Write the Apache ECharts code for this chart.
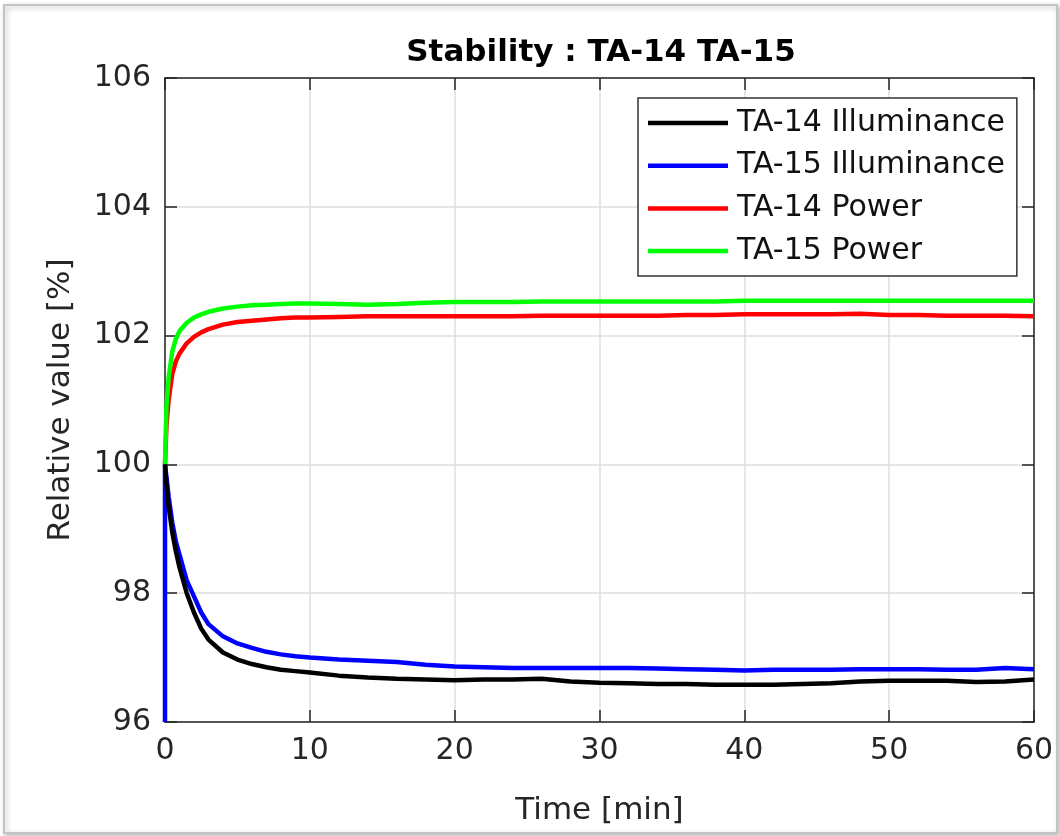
<!DOCTYPE html>
<html>
<head>
<meta charset="utf-8">
<title>Stability : TA-14 TA-15</title>
<script src="https://cdn.jsdelivr.net/npm/echarts@6/dist/echarts.min.js"></script>
<style>
  html, body { margin: 0; padding: 0; background: #ffffff; }
  #chart { width: 1060px; height: 836px; }
</style>
</head>
<body>
<div id="chart"></div>
<script>
// Sample times [min]
const timeMin = [0, 0.1, 0.25, 0.5, 0.75, 1, 1.5, 2, 2.5, 3, 4, 5, 6, 7, 8, 9, 10, 12, 14, 16, 18, 20,
  22, 24, 26, 28, 30, 32, 34, 36, 38, 40, 42, 44, 46, 48, 50, 52, 54, 56, 58, 60];

// Relative values [%]
const ta14Illuminance = [100, 99.7, 99.35, 98.95, 98.65, 98.4, 98.0, 97.7, 97.45, 97.28, 97.08, 96.97, 96.9,
  96.85, 96.81, 96.79, 96.77, 96.72, 96.69, 96.67, 96.66, 96.65, 96.66, 96.66, 96.67, 96.63, 96.61, 96.6,
  96.59, 96.59, 96.58, 96.58, 96.58, 96.59, 96.6, 96.63, 96.64, 96.64, 96.64, 96.62, 96.63, 96.66];
const ta15Illuminance = [100, 99.8, 99.5, 99.1, 98.8, 98.6, 98.2, 97.95, 97.7, 97.52, 97.33, 97.22, 97.15,
  97.09, 97.05, 97.02, 97.0, 96.97, 96.95, 96.93, 96.89, 96.86, 96.85, 96.84, 96.84, 96.84, 96.84, 96.84,
  96.83, 96.82, 96.81, 96.8, 96.81, 96.81, 96.81, 96.82, 96.82, 96.82, 96.81, 96.81, 96.84, 96.82];
const ta14Power = [100, 100.6, 101.0, 101.4, 101.6, 101.72, 101.88, 101.98, 102.05, 102.1, 102.17, 102.21,
  102.23, 102.25, 102.27, 102.28, 102.28, 102.29, 102.3, 102.3, 102.3, 102.3, 102.3, 102.3, 102.31, 102.31,
  102.31, 102.31, 102.31, 102.32, 102.32, 102.33, 102.33, 102.33, 102.33, 102.34, 102.32, 102.32, 102.31,
  102.31, 102.31, 102.3];
const ta15Power = [100, 100.9, 101.35, 101.75, 101.95, 102.07, 102.2, 102.28, 102.33, 102.37, 102.42, 102.45,
  102.47, 102.48, 102.49, 102.5, 102.5, 102.49, 102.48, 102.49, 102.51, 102.52, 102.52, 102.52, 102.53,
  102.53, 102.53, 102.53, 102.53, 102.53, 102.53, 102.54, 102.54, 102.54, 102.54, 102.54, 102.54, 102.54,
  102.54, 102.54, 102.54, 102.54];
// TA-15 illuminance record begins at the bottom of the range before the first reading
const ta15IlluminanceStart = [0, 96];

const seriesNames = ['TA-14 Illuminance', 'TA-15 Illuminance', 'TA-14 Power', 'TA-15 Power'];
const seriesColors = ['#000000', '#0000ff', '#ff0000', '#00ff00'];

const xTicks = { min: 0, max: 60, interval: 10 };
const yTicks = { min: 96, max: 106, interval: 2 };

const FONT = 'DejaVu Sans';
const AXIS_COLOR = '#262626';
// thin horizontal bar used as the legend key
const LEGEND_KEY = 'path://M0,0 L80,0 L80,4.5 L0,4.5 Z';

function pairs(xs, ys) { return xs.map((x, i) => [x, ys[i]]); }

const seriesValues = [
  pairs(timeMin, ta14Illuminance),
  [ta15IlluminanceStart].concat(pairs(timeMin, ta15Illuminance)),
  pairs(timeMin, ta14Power),
  pairs(timeMin, ta15Power)
];

const chart = echarts.init(document.getElementById('chart'), null, { renderer: 'canvas' });

const boxAxisX = (pos, main) => ({
  type: 'value', position: pos, min: xTicks.min, max: xTicks.max, interval: xTicks.interval,
  axisLine: { show: true, onZero: false, lineStyle: { color: AXIS_COLOR, width: 1.5 } },
  axisTick: { show: true, inside: true, length: 12, lineStyle: { color: AXIS_COLOR, width: 1.5 } },
  axisLabel: main ? { show: true, fontFamily: FONT, fontSize: 30, color: AXIS_COLOR, margin: 14 } : { show: false },
  splitLine: main ? { show: true, lineStyle: { color: '#dedede', width: 1.5 } } : { show: false },
  name: main ? 'Time [min]' : '',
  nameLocation: 'middle', nameGap: 73,
  nameTextStyle: { fontFamily: FONT, fontSize: 31, color: AXIS_COLOR }
});

const boxAxisY = (pos, main) => ({
  type: 'value', position: pos, min: yTicks.min, max: yTicks.max, interval: yTicks.interval,
  axisLine: { show: true, onZero: false, lineStyle: { color: AXIS_COLOR, width: 1.5 } },
  axisTick: { show: true, inside: true, length: 12, lineStyle: { color: AXIS_COLOR, width: 1.5 } },
  axisLabel: main ? { show: true, fontFamily: FONT, fontSize: 30, color: AXIS_COLOR, margin: 14 } : { show: false },
  splitLine: main ? { show: true, lineStyle: { color: '#dedede', width: 1.5 } } : { show: false },
  name: main ? 'Relative value [%]' : '',
  nameLocation: 'middle', nameGap: 89, nameRotate: 90,
  nameTextStyle: { fontFamily: FONT, fontSize: 31, color: AXIS_COLOR }
});

chart.setOption({
  backgroundColor: '#ffffff',
  animation: false,
  graphic: [{
    type: 'rect', z: -100, silent: true,
    shape: { x: 4, y: 5, width: 1053, height: 828 },
    style: { fill: '#ffffff', stroke: '#c4c4c4', lineWidth: 2,
      shadowBlur: 5, shadowColor: 'rgba(0,0,0,0.25)', shadowOffsetX: 2, shadowOffsetY: 2 }
  }],
  title: {
    text: 'Stability : TA-14 TA-15',
    left: 596, top: 32, textAlign: 'center',
    textStyle: { fontFamily: FONT, fontSize: 31, fontWeight: 'bold', color: '#000000' }
  },
  grid: { left: 165, right: 26, top: 78, bottom: 114, containLabel: false },
  xAxis: [boxAxisX('bottom', true), boxAxisX('top', false)],
  yAxis: [boxAxisY('left', true), boxAxisY('right', false)],
  legend: {
    orient: 'vertical', left: 638, top: 98,
    padding: [10, 12, 10, 10],
    itemWidth: 80, itemHeight: 30, itemGap: 12.7,
    icon: LEGEND_KEY,
    backgroundColor: '#ffffff', borderColor: '#333333', borderWidth: 1.5,
    textStyle: { fontFamily: FONT, fontSize: 30, color: '#111111', padding: [0, 0, 0, 4] },
    data: seriesNames
  },
  series: seriesNames.map((name, i) => ({
    name, type: 'line', xAxisIndex: 0, yAxisIndex: 0,
    data: seriesValues[i], showSymbol: false, symbol: 'none', smooth: false, clip: true,
    color: seriesColors[i],
    lineStyle: { color: seriesColors[i], width: 4.5 },
    z: 2 + (i < 2 ? 1 - i : 0)
  }))
});
</script>
</body>
</html>
